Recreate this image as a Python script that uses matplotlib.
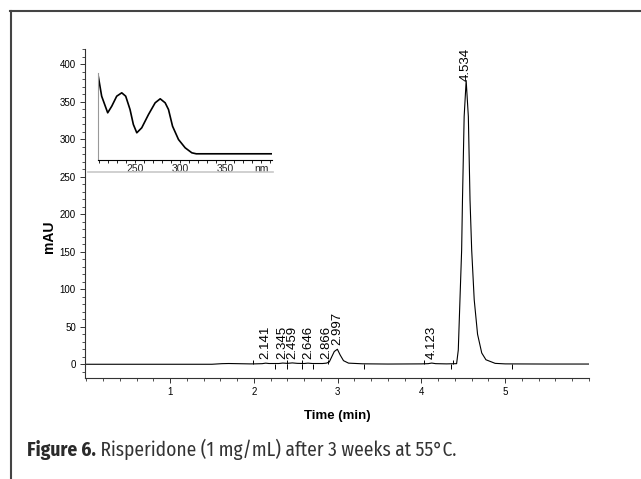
import matplotlib
matplotlib.use("Agg")
from matplotlib import pyplot as plt
from matplotlib import font_manager as fm
from matplotlib.lines import Line2D
from matplotlib.ticker import MultipleLocator
import numpy as np

# chromatogram (min, mAU)
rt_time = [0, 1.5, 1.62, 1.7, 1.8, 1.95, 2.0, 2.10, 2.141, 2.18,
           2.30, 2.345, 2.40, 2.459, 2.52, 2.60, 2.646, 2.70, 2.82, 2.866,
           2.90, 2.93, 2.96, 2.997, 3.03, 3.07, 3.13, 3.3, 3.6, 4.0,
           4.08, 4.123, 4.17, 4.3, 4.42, 4.44, 4.46, 4.48, 4.49, 4.51,
           4.534, 4.56, 4.58, 4.60, 4.63, 4.67, 4.72, 4.77, 4.88, 5.0,
           5.5, 6.0]
signal_mau = [0, 0, 0.8, 1.0, 0.8, 0.5, 0.5, 0.8, 1.5, 1.0,
              1.0, 1.6, 1.2, 1.8, 1.2, 1.0, 1.5, 1.0, 1.0, 1.5,
              3, 10, 17, 20, 12.4, 4.8, 1.5, 0.6, 0.3, 0.5,
              0.8, 1.6, 0.8, 0.5, 0.8, 19, 86, 152, 219, 330,
              378, 330, 219, 152, 86, 40, 15, 6, 1.2, 0.5,
              0.3, 0.3]

peak_rt = [2.141, 2.345, 2.459, 2.646, 2.866, 2.997, 4.123, 4.534]
peak_names = ["2.141", "2.345", "2.459", "2.646", "2.866", "2.997", "4.123", "4.534"]

# integration marks
mark_start = [1.99, 2.39, 2.58, 2.88, 4.03, 4.38]
mark_end = [2.25, 2.39, 2.58, 2.71, 3.32, 4.35, 5.08]

# UV spectrum of the main peak (nm, relative)
uv_nm = [208.6, 213, 219.7, 224.2, 229.7, 235.3, 239.7, 244.5, 248.2, 252,
         257.5, 265, 272.4, 278, 283.5, 287.2, 291.7, 298.3, 305.7, 313.1,
         318, 401.8]
uv_abs = [86.7, 63.3, 46.7, 53.3, 63.3, 66.7, 63.3, 50, 35, 26.7,
          31.7, 45, 56.7, 60.7, 56.7, 50, 33.3, 20, 11.7, 6.7,
          5.7, 5.7]

caption_bold = "Figure 6."
caption_text = " Risperidone (1 mg/mL) after 3 weeks at 55\u00b0C."

W, H = 641, 479
plt.rcParams['font.family'] = ['Liberation Sans', 'DejaVu Sans']
fig = plt.figure(figsize=(W / 100, H / 100), dpi=100)

axcol = '#333333'

ax = fig.add_axes([85 / W, 1 - 378.3 / H, 504 / W, 329.3 / H])
ax.plot(rt_time, signal_mau, color='black', lw=0.8)
ax.set_xlim(-0.015, 6.0)
ax.set_ylim(-18.7, 420)
for s in ['top', 'right']:
    ax.spines[s].set_visible(False)
for s in ['left', 'bottom']:
    ax.spines[s].set_color(axcol)
    ax.spines[s].set_linewidth(0.8)
ax.set_xticks([1, 2, 3, 4, 5])
ax.xaxis.set_minor_locator(MultipleLocator(0.2))
ax.set_yticks([0, 50, 100, 150, 200, 250, 300, 350, 400])
ax.yaxis.set_minor_locator(MultipleLocator(10))
ax.tick_params(which='major', length=3.6, width=0.7, color=axcol, labelsize=7, pad=3)
ax.tick_params(which='minor', length=2.2, width=0.6, color=axcol)
ax.set_xlabel("Time (min)", fontsize=9.5, fontweight='bold', labelpad=9)
ax.set_ylabel("mAU", fontsize=10, fontweight='bold')
ax.yaxis.set_label_coords(-0.058, 0.43)

ax.vlines(mark_start, 0, 6, color='black', lw=0.7)
ax.vlines(mark_end, -6, 0, color='black', lw=0.7)

for t, name in zip(peak_rt, peak_names):
    h = np.interp(t, rt_time, signal_mau)
    off = 5 if h < 100 else 0
    ax.text(t, h + off, name, rotation=90, ha='center', va='bottom', fontsize=9.5)

# inset spectrum
ins = fig.add_axes([97.7 / W, 1 - 159.5 / H, 174 / W, 86.5 / H])
ins.patch.set_alpha(0)
ins.plot(uv_nm, uv_abs, color='black', lw=1.2)
ins.set_xlim(208.6, 401.8)
ins.set_ylim(0, 86.5)
ins.spines['top'].set_visible(False)
ins.spines['right'].set_visible(False)
ins.spines['left'].set_color('#999999')
ins.spines['bottom'].set_color('black')
ins.set_yticks([])
ins.set_xticks([250, 300, 350, 390])
ins.set_xticklabels(['250', '300', '350', 'nm'])
ins.xaxis.set_minor_locator(MultipleLocator(10))
ins.tick_params(which='major', length=2.5, width=0.6, labelsize=7.5, pad=0.5,
                labelcolor='#222222')
ins.tick_params(which='minor', length=2.0, width=0.6)
fig.add_artist(Line2D([87.7 / W, 272.7 / W], [1 - 172 / H, 1 - 172 / H],
                      color='#c8c8c8', lw=1.2))

# page frame
fig.add_artist(Line2D([10 / W, 1], [1 - 11 / H, 1 - 11 / H], color='#444444', lw=1.5))
fig.add_artist(Line2D([11 / W, 11 / W], [0, 1 - 11 / H], color='#444444', lw=1.5))

# caption, condensed font if there is one
have = {f.name for f in fm.fontManager.ttflist}
cap_font = next((n for n in ['Fira Sans Condensed', 'PT Sans Narrow', 'Liberation Sans Narrow']
                 if n in have), 'DejaVu Sans')
r = fig.canvas.get_renderer()
cap_y = 1 - 455.5 / H
size = 14
t1 = fig.text(27 / W, cap_y, caption_bold, fontsize=size, fontweight='bold',
              family=cap_font, va='baseline', ha='left', color='#2a2a2a')
t2 = fig.text(0, cap_y, caption_text, fontsize=size, family=cap_font,
              va='baseline', ha='left', color='#333333')
for _ in range(3):
    b1 = t1.get_window_extent(r)
    t2.set_x(b1.x1 / W)
    b2 = t2.get_window_extent(r)
    size = size * 431 / (b2.x1 - b1.x0)
    t1.set_fontsize(size)
    t2.set_fontsize(size)
b1 = t1.get_window_extent(r)
t2.set_x(b1.x1 / W)

fig.savefig("out.png", dpi=100)
